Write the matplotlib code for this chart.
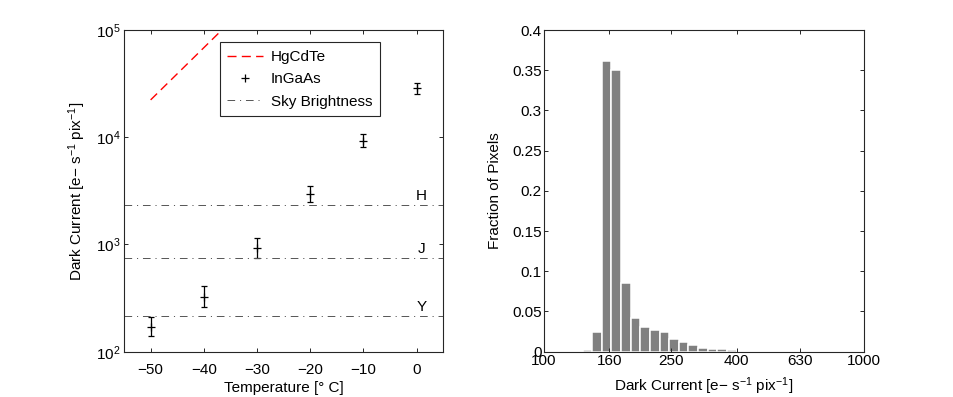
import numpy as np
import matplotlib
matplotlib.use("Agg")
import matplotlib.pyplot as plt
from matplotlib.ticker import FuncFormatter, NullLocator

plt.rcParams['font.family'] = ['Liberation Sans', 'DejaVu Sans']
plt.rcParams['font.size'] = 11
plt.rcParams['mathtext.fontset'] = 'custom'
plt.rcParams['mathtext.rm'] = 'Liberation Sans'
plt.rcParams['mathtext.it'] = 'Liberation Sans:italic'
plt.rcParams['mathtext.bf'] = 'Liberation Sans:bold'
plt.rcParams['lines.scale_dashes'] = False

# --- left panel: dark current vs temperature ---
temps = [-50, -40, -30, -20, -10, 0]
ingaas = [171, 326, 922, 2960, 9290, 28600]
ingaas_lo = [140, 259, 743, 2480, 8170, 25500]
ingaas_hi = [209, 410, 1143, 3540, 10670, 32300]

hgcdte_temps = [-50, -30]
hgcdte = [2.23e4, 2.1e5]

sky_bands = ['H', 'J', 'Y']
sky_levels = [2335, 753, 215]

# --- right panel: histogram of dark current ---
bin_edges = [100, 107.2, 114.9, 123.1, 132.0, 141.4, 151.6, 162.5, 174.1,
             186.6, 200, 214.4, 229.7, 246.2, 263.9, 282.8, 303.1, 324.9,
             348.2, 373.2, 400, 428.7, 459.5, 492.5, 527.8, 565.7, 606.3,
             649.8, 696.4, 746.4]
fractions = [0.0, 0.0004, 0.0004, 0.0005, 0.002, 0.025, 0.361, 0.350, 0.085,
             0.042, 0.031, 0.027, 0.024, 0.016, 0.0125, 0.0085, 0.0047,
             0.0037, 0.003, 0.0017, 0.001, 0.0005, 0.0005, 0.0004, 0.0004,
             0.0003, 0.0003, 0.0002, 0.0002]
xticks_hist = [100, 160, 250, 400, 630, 1000]

spine_col = '#262626'

fig = plt.figure(figsize=(9.54, 3.97), dpi=100)
ax1 = fig.add_axes([0.130, 0.1141, 0.3347, 0.8103])
ax2 = fig.add_axes([0.5702, 0.1141, 0.3354, 0.8103])

# left
ax1.plot(hgcdte_temps, hgcdte, color='red', lw=1.0, dashes=(6.5, 3.8), label='HgCdTe')
yerr = [np.array(ingaas) - np.array(ingaas_lo), np.array(ingaas_hi) - np.array(ingaas)]
ax1.errorbar(temps, ingaas, yerr=yerr, fmt='none', ecolor='k', elinewidth=0.9,
             capsize=2.2, capthick=0.9)
ax1.plot(temps, ingaas, ls='none', marker='+', color='k', ms=6, mew=0.9, label='InGaAs')
for i, (band, lev) in enumerate(zip(sky_bands, sky_levels)):
    ax1.axhline(lev, color='#555555', lw=0.7, dashes=(5.5, 3.5, 0.8, 3.5),
                label='Sky Brightness' if i == 0 else None)
    ax1.text(0.9, lev * 1.04, band, ha='center', va='bottom', fontsize=11)

ax1.set_yscale('log')
ax1.set_xlim(-55, 5)
ax1.set_ylim(1e2, 1e5)
ax1.set_xticks(temps)
ax1.yaxis.set_minor_locator(NullLocator())
ax1.set_xlabel('Temperature [° C]')
ax1.set_ylabel('Dark Current [e$-$ s$^{-1}$ pix$^{-1}$]')
leg = ax1.legend(loc='upper right', bbox_to_anchor=(0.802, 0.962), borderaxespad=0,
                 fancybox=False, framealpha=1, edgecolor=spine_col,
                 handlelength=2.3, handletextpad=0.55, borderpad=0.5,
                 labelspacing=0.55, fontsize=11)
leg.get_frame().set_linewidth(0.8)

# right
lefts = np.array(bin_edges[:-1])
widths = np.diff(bin_edges)
ax2.bar(lefts[:len(fractions)], fractions, width=widths[:len(fractions)], align='edge',
        color='#808080', edgecolor='white', linewidth=1.1)
ax2.set_xscale('log')
ax2.set_xlim(100, 1000)
ax2.set_ylim(0, 0.4)
ax2.set_xticks(xticks_hist)
ax2.xaxis.set_minor_locator(NullLocator())
ax2.xaxis.set_major_formatter(FuncFormatter(lambda v, p: f"{v:g}"))
ax2.set_yticks(np.arange(0, 0.401, 0.05))
ax2.yaxis.set_major_formatter(FuncFormatter(lambda v, p: f"{round(v, 3):g}"))
ax2.set_xlabel('Dark Current [e$-$ s$^{-1}$ pix$^{-1}$]')
ax2.set_ylabel('Fraction of Pixels')

for ax in (ax1, ax2):
    for s in ax.spines.values():
        s.set_color(spine_col)
        s.set_linewidth(0.8)
    ax.tick_params(which='both', direction='in', top=True, right=True,
                   length=3, width=0.7, color=spine_col, labelsize=11)
    ax.xaxis.label.set_va('center')
    ax.yaxis.label.set_va('center')

ax1.tick_params(axis='x', pad=8)
ax1.tick_params(axis='y', pad=2.5)
ax2.tick_params(axis='x', pad=2)
ax2.tick_params(axis='y', pad=1.5)

ax1.xaxis.set_label_coords(0.5, -0.113)
ax1.yaxis.set_label_coords(-0.147, 0.5)
ax2.xaxis.set_label_coords(0.5, -0.107)
ax2.yaxis.set_label_coords(-0.153, 0.5)

fig.savefig('out.png', dpi=100)
